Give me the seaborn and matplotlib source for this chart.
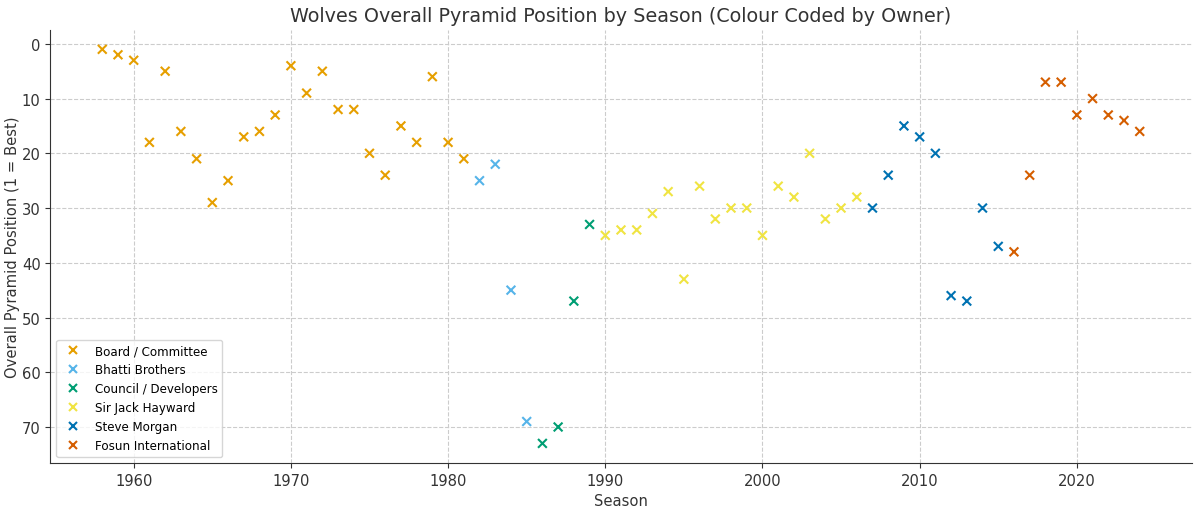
import matplotlib
matplotlib.use("Agg")
import matplotlib.pyplot as plt
import seaborn as sns
import pandas as pd

owners = ["Board / Committee", "Bhatti Brothers", "Council / Developers",
          "Sir Jack Hayward", "Steve Morgan", "Fosun International"]
colors = ["#E69F00", "#56B4E9", "#009E73", "#F0E442", "#0072B2", "#D55E00"]

board_seasons = list(range(1958, 1982))
board_pos = [1, 2, 3, 18, 5, 16, 21, 29, 25, 17, 16, 13, 4, 9, 5, 12, 12, 20, 24, 15, 18, 6, 18, 21]
bhatti_seasons = [1982, 1983, 1984, 1985]
bhatti_pos = [25, 22, 45, 69]
council_seasons = [1986, 1987, 1988, 1989]
council_pos = [73, 70, 47, 33]
hayward_seasons = list(range(1990, 2007))
hayward_pos = [35, 34, 34, 31, 27, 43, 26, 32, 30, 30, 35, 26, 28, 20, 32, 30, 28]
morgan_seasons = list(range(2007, 2016))
morgan_pos = [30, 24, 15, 17, 20, 46, 47, 30, 37]
fosun_seasons = list(range(2016, 2025))
fosun_pos = [38, 24, 7, 7, 13, 10, 13, 14, 16]

groups = [(board_seasons, board_pos), (bhatti_seasons, bhatti_pos),
          (council_seasons, council_pos), (hayward_seasons, hayward_pos),
          (morgan_seasons, morgan_pos), (fosun_seasons, fosun_pos)]
rows = []
for name, (s, p) in zip(owners, groups):
    for a, b in zip(s, p):
        rows.append({"Season": a, "Position": b, "Owner": name})
df = pd.DataFrame(rows)

fig, ax = plt.subplots(figsize=(12, 5.1), dpi=100)
sns.scatterplot(data=df, x="Season", y="Position", hue="Owner", hue_order=owners,
                palette=colors, marker="x", s=40, linewidth=1.5, ax=ax)
ax.invert_yaxis()
ax.grid(True, linestyle="--", color="#cccccc", linewidth=0.8)
ax.set_axisbelow(True)
ax.spines["top"].set_visible(False)
ax.spines["right"].set_visible(False)
for sp in ("left", "bottom"):
    ax.spines[sp].set_color("#333333")
ax.set_title("Wolves Overall Pyramid Position by Season (Colour Coded by Owner)", fontsize=13.8, color="#333333")
ax.set_xlabel("Season", fontsize=10.6, color="#333333")
ax.set_ylabel("Overall Pyramid Position (1 = Best)", fontsize=10.6, color="#333333", labelpad=1)
ax.tick_params(labelsize=10.6, labelcolor="#333333", color="#333333")
leg = ax.legend(loc="lower left", fontsize=8.6, title=None)
fig.subplots_adjust(left=0.042, right=0.993, top=0.94, bottom=0.09)
fig.savefig("out.png", dpi=100)
